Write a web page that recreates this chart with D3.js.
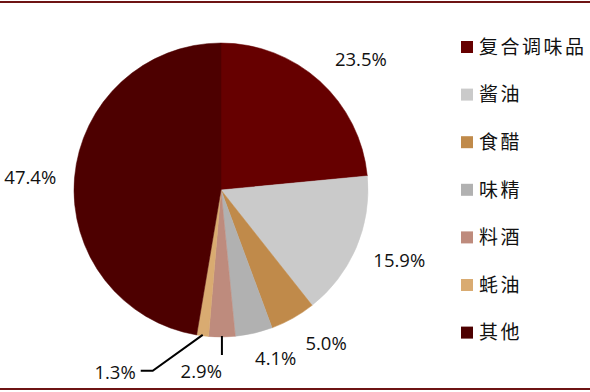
<!DOCTYPE html>
<html>
<head>
<meta charset="utf-8">
<script src="https://cdn.jsdelivr.net/npm/d3@7"></script>
<style>
  body { margin: 0; background: #fff; }
  svg { display: block; }
</style>
</head>
<body>
<div id="chart"></div>
<script>
// data (share of condiment market, %)
var categories = ["复合调味品", "酱油", "食醋", "味精", "料酒", "蚝油", "其他"]
var shares = [23.5, 15.9, 5.0, 4.1, 2.9, 1.3, 47.4]
var colors = ["#660000", "#cacaca", "#c08a4a", "#b1b1b1", "#be8b7d", "#d9ab71", "#4d0000"]

var w = 590
var h = 392
var cx = 221, cy = 190, radius = 147
var labelFont = "'Open Sans', 'Liberation Sans', sans-serif"

var svg = d3.select("#chart").append("svg").attr("width", w).attr("height", h)

// frame lines top and bottom
svg.append("line").attr("x1", 0).attr("x2", w).attr("y1", 2).attr("y2", 2)
    .attr("stroke", "#6e1414").attr("stroke-width", 2)
svg.append("line").attr("x1", 0).attr("x2", w).attr("y1", 389).attr("y2", 389)
    .attr("stroke", "#6e1414").attr("stroke-width", 2)

var data = categories.map(function(c, i) { return { name: c, value: shares[i], color: colors[i] } })

var pie = d3.pie().sort(null).value(function(d) { return d.value })
var arc = d3.arc().innerRadius(0).outerRadius(radius)
var arcs = pie(data)

var g = svg.append("g").attr("transform", "translate(" + cx + "," + cy + ")")

g.selectAll("path")
    .data(arcs)
    .enter()
    .append("path")
    .attr("fill", function(d) { return d.data.color })
    .attr("stroke", function(d) { return d.data.color })
    .attr("stroke-width", 0.5)
    .attr("d", arc)

// small slices get a leader line, the rest sit just outside the rim
var leaders = {
    "料酒": { knee: [0, 19], tail: 0, text: [0, 35] },
    "蚝油": { knee: [-50, 36], tail: -12, text: [-17, 37] }
}
// Excel-style nudges for the outside labels
var nudge = {
    "复合调味品": [16, 6],
    "酱油": [5, -4],
    "食醋": [18, -2],
    "味精": [16, 0],
    "其他": [-3, 3]
}

arcs.forEach(function(d) {
    var a = (d.startAngle + d.endAngle) / 2
    var sx = Math.sin(a), sy = -Math.cos(a)
    var label = d.data.value.toFixed(1) + "%"
    var t = g.append("text")
        .text(label)
        .attr("font-family", labelFont)
        .attr("font-size", "18.5px")
        .attr("fill", "#111")
        .attr("dy", "0.36em")

    var ld = leaders[d.data.name]
    if (ld) {
        var ex = sx * (radius - 1), ey = sy * (radius - 1)
        var kx = ex + ld.knee[0], ky = ey + ld.knee[1]
        g.append("polyline")
            .attr("points", [[ex, ey], [kx, ky], [kx + ld.tail, ky]].map(function(p) { return p.join(",") }).join(" "))
            .attr("fill", "none")
            .attr("stroke", "#000")
            .attr("stroke-width", 2)
        t.attr("text-anchor", "end")
            .attr("x", ex + ld.knee[0] + ld.text[0])
            .attr("y", ey + ld.text[1])
    } else {
        var bb = t.node().getBBox()
        var dist = radius + 15 + Math.abs(sx) * bb.width / 2 + Math.abs(sy) * 6.5
        var nd = nudge[d.data.name] || [0, 0]
        t.attr("text-anchor", "middle")
            .attr("x", sx * dist + nd[0])
            .attr("y", sy * dist + nd[1])
    }
})

// legend
var legend = svg.append("g")
    .selectAll("g")
    .data(data)
    .enter()
    .append("g")
    .attr("transform", function(d, i) { return "translate(461," + (47 + i * 47.6) + ")" })

legend.append("rect")
    .attr("x", 0).attr("y", -6)
    .attr("width", 12).attr("height", 12)
    .attr("fill", function(d) { return d.color })

legend.append("text")
    .text(function(d) { return d.name })
    .attr("x", 18)
    .attr("dy", "0.36em")
    .attr("font-family", "'Noto Sans CJK SC', sans-serif")
    .attr("font-size", "19px")
    .attr("letter-spacing", "2.5px")
    .attr("fill", "#111")
</script>
</body>
</html>
